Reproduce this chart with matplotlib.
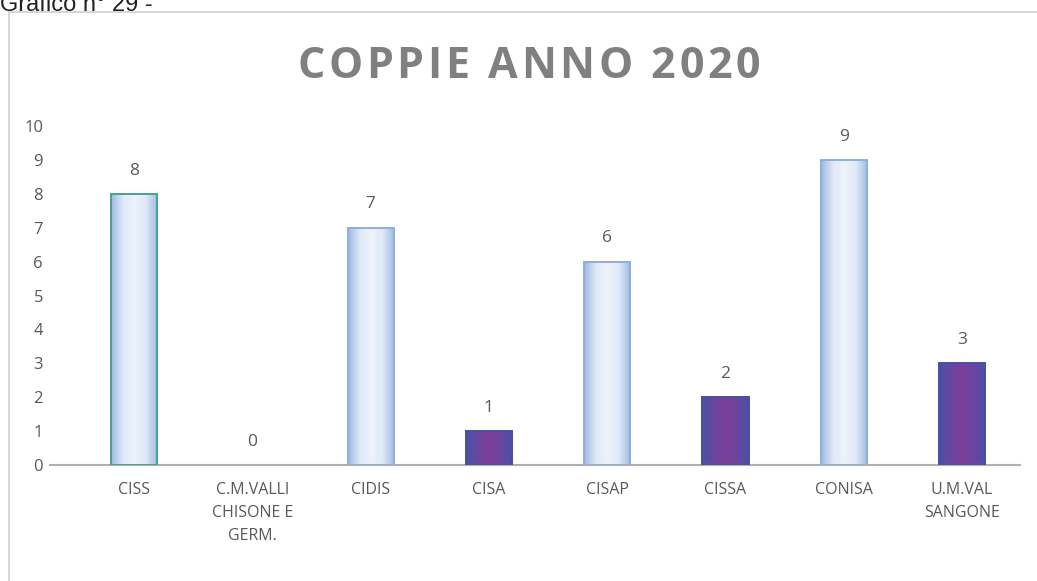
import numpy as np
import matplotlib
matplotlib.use("Agg")
import matplotlib.pyplot as plt
from matplotlib.patches import Rectangle
from matplotlib.colors import LinearSegmentedColormap

categories = ["CISS", "C.M.VALLI\nCHISONE E\nGERM.", "CIDIS", "CISA", "CISAP", "CISSA", "CONISA", "U.M.VAL\nSANGONE"]
values = [8, 0, 7, 1, 6, 2, 9, 3]
styles = ["blue", "blue", "blue", "purple", "blue", "purple", "blue", "purple"]
yticks = list(range(0, 11))
title = "COPPIE ANNO 2020"

W, H = 1037, 581
fig = plt.figure(figsize=(W/100, H/100), dpi=100)
fig.patch.set_facecolor("white")

# outer frame
frame = Rectangle((9/W, -0.05), 1.2, 1 - 12/H + 0.05, transform=fig.transFigure,
                  fill=False, edgecolor="#d0d0d0", linewidth=1.2)
fig.patches.append(frame)
fig.text(0.0, 1 - 5/H, "Grafico n° 29 -", fontsize=17, color="#222222", ha="left", va="center",
         family="Liberation Sans")

ax = fig.add_axes([50/W, 1 - 465/H, (1020 - 50)/W, (465 - 126)/H])
for s in ["left", "right", "top"]:
    ax.spines[s].set_visible(False)
ax.spines["bottom"].set_color("#b0b0b0")
ax.spines["bottom"].set_linewidth(1.5)
ax.set_yticks(yticks)
ax.set_yticklabels([str(t) for t in yticks], fontsize=12, color="#595959", family="Open Sans")
ax.tick_params(axis="y", length=0, pad=5)
ax.tick_params(axis="x", length=0, pad=12)
ax.set_xticks(range(len(categories)))
ax.set_xticklabels(categories, fontsize=11.5, color="#595959", family="Open Sans", linespacing=1.6, va="top")

blue_cmap = LinearSegmentedColormap.from_list("b", ["#9fb9e2", "#dfe9f7", "#eef3fb", "#dfe9f7", "#9fb9e2"])
purp_cmap = LinearSegmentedColormap.from_list("p", ["#4852a6", "#6a46a0", "#7b3e98", "#6a46a0", "#4852a6"])
xg = np.linspace(0, 1, 64)
grad = np.repeat(xg[None, :], 2, axis=0)

w = 0.39
for i, (v, st) in enumerate(zip(values, styles)):
    if v > 0:
        cmap = blue_cmap if st == "blue" else purp_cmap
        edge = "#4aa08f" if i == 0 else ("#8eaedb" if st == "blue" else "#4650a0")
        bars = ax.bar(i, v, width=w, color="none", edgecolor=edge, linewidth=1.4, zorder=3)
        r = bars[0]
        im = ax.imshow(grad, cmap=cmap, aspect="auto", extent=[i - w/2, i + w/2, 0, v],
                       zorder=2, interpolation="bicubic")
        im.set_clip_path(r)
    ax.text(i, v + 0.45, str(v), ha="center", va="bottom", fontsize=12.5, color="#595959",
            family="Open Sans")

ax.set_xlim(-0.71, 7.49)
ax.set_ylim(0, 10)

# title with letter spacing, char by char
tprops = dict(fontsize=31, fontweight="bold", color="#808080", family="Open Sans", va="center", ha="left")
fig.canvas.draw()
rend = fig.canvas.get_renderer()
def width_of(s):
    t = fig.text(0, 0, s, **tprops)
    wpx = t.get_window_extent(rend).width
    t.remove()
    return wpx
space_w = width_of("A A") - width_of("AA")
widths = [space_w if ch == " " else width_of(ch) for ch in title]
x0, x1 = 297, 760
track = (x1 - x0 - sum(widths)) / (len(title) - 1)
x = x0
for ch, cw in zip(title, widths):
    if ch != " ":
        fig.text(x / W, 1 - 66/H, ch, **tprops)
    x += cw + track

fig.savefig("out.png", dpi=100, facecolor="white")
